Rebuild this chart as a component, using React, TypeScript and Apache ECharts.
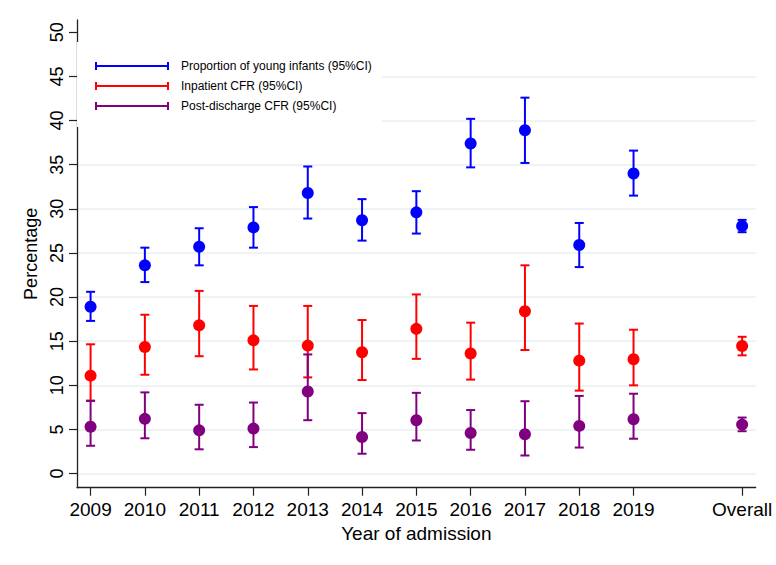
import React, { useEffect, useRef } from "react";
import * as echarts from "echarts";

const categories = ["2009", "2010", "2011", "2012", "2013", "2014", "2015", "2016", "2017", "2018", "2019", "Overall"];

const infantsEst = [18.9, 23.6, 25.7, 27.9, 31.8, 28.7, 29.6, 37.4, 38.9, 25.9, 34.0, 28.05];
const infantsLow = [17.3, 21.7, 23.6, 25.6, 28.9, 26.4, 27.2, 34.7, 35.2, 23.4, 31.5, 27.35];
const infantsHigh = [20.6, 25.6, 27.8, 30.2, 34.8, 31.1, 32.0, 40.2, 42.6, 28.4, 36.6, 28.75];

const inpatientEst = [11.1, 14.35, 16.8, 15.1, 14.5, 13.75, 16.4, 13.6, 18.4, 12.8, 12.95, 14.45];
const inpatientLow = [8.25, 11.2, 13.3, 11.8, 10.9, 10.6, 13.0, 10.65, 14.0, 9.4, 10.0, 13.4];
const inpatientHigh = [14.65, 18.0, 20.7, 19.0, 19.0, 17.4, 20.3, 17.1, 23.6, 17.0, 16.3, 15.5];

const postEst = [5.3, 6.2, 4.9, 5.1, 9.3, 4.15, 6.05, 4.6, 4.45, 5.4, 6.15, 5.55];
const postLow = [3.15, 4.0, 2.75, 3.0, 6.05, 2.25, 3.75, 2.7, 2.05, 2.95, 3.95, 4.8];
const postHigh = [8.25, 9.2, 7.8, 8.05, 13.5, 6.85, 9.15, 7.2, 8.2, 8.8, 9.05, 6.35];

const yTicks = [0, 5, 10, 15, 20, 25, 30, 35, 40, 45, 50];

const seriesNames = [
  "Proportion of young infants (95%CI)",
  "Inpatient CFR (95%CI)",
  "Post-discharge CFR (95%CI)",
];
const seriesColors = ["#0000FF", "#FF0000", "#800080"];

const FONT = "'Liberation Sans', Arial, sans-serif";
const OVERALL_POS = 2021;

function xOf(c: string): number {
  return c === "Overall" ? OVERALL_POS : Number(c);
}

const xTicks = categories.map(xOf);

const legendIcon = "path://M0 0H2V8H0Z M0 3H74V5H0Z M72 0H74V8H72Z";

export default function App() {
  const ref = useRef<HTMLDivElement>(null);

  useEffect(() => {
    if (!ref.current) return;
    const chart = echarts.init(ref.current, null, { renderer: "svg" });

    const groups = [
      { est: infantsEst, low: infantsLow, high: infantsHigh },
      { est: inpatientEst, low: inpatientLow, high: inpatientHigh },
      { est: postEst, low: postLow, high: postHigh },
    ];

    const series: any[] = [];
    groups.forEach((g, gi) => {
      const color = seriesColors[gi];
      series.push({
        type: "custom",
        name: seriesNames[gi] + " CI",
        data: categories.map((c, i) => [xOf(c), g.low[i], g.high[i]]),
        encode: { x: 0, y: [1, 2] },
        renderItem: (params: any, api: any) => {
          const x = api.value(0);
          const lo = api.coord([x, api.value(1)]);
          const hi = api.coord([x, api.value(2)]);
          const half = 4.5;
          const style = { stroke: color, lineWidth: 2, fill: null };
          return {
            type: "group",
            children: [
              { type: "line", shape: { x1: lo[0], y1: lo[1], x2: hi[0], y2: hi[1] }, style },
              { type: "line", shape: { x1: lo[0] - half, y1: lo[1], x2: lo[0] + half, y2: lo[1] }, style },
              { type: "line", shape: { x1: hi[0] - half, y1: hi[1], x2: hi[0] + half, y2: hi[1] }, style },
            ],
          };
        },
        silent: true,
      });
      series.push({
        type: "scatter",
        name: seriesNames[gi],
        data: categories.map((c, i) => [xOf(c), g.est[i]]),
        symbol: "circle",
        symbolSize: 12,
        itemStyle: { color, opacity: 1 },
        silent: true,
      });
    });

    const gridColors = yTicks.map((t) => (t === 50 ? "rgba(0,0,0,0)" : "#E9F0F3"));

    chart.setOption({
      animation: false,
      backgroundColor: "#ffffff",
      textStyle: { fontFamily: FONT },
      grid: { left: 77, right: 20.3, top: 20, bottom: 77.3, containLabel: false },
      legend: {
        left: 77,
        top: 42,
        orient: "vertical",
        backgroundColor: "#ffffff",
        padding: [17, 10, 14, 18],
        itemWidth: 74,
        itemHeight: 8,
        itemGap: 6,
        selectedMode: false,
        textStyle: { fontSize: 12, color: "#000", fontFamily: FONT, padding: [0, 0, 0, 7], lineHeight: 14 },
        data: seriesNames.map((n) => ({ name: n, icon: legendIcon })),
      },
      xAxis: {
        type: "value",
        min: 2008.75,
        max: 2021.25,
        axisLine: { show: true, onZero: false, lineStyle: { color: "#222", width: 1.3 } },
        axisTick: { show: true, length: 8, customValues: xTicks, lineStyle: { color: "#222", width: 1.2 } },
        axisLabel: {
          customValues: xTicks,
          formatter: (v: number) => (v === OVERALL_POS ? "Overall" : String(v)),
          fontSize: 19,
          color: "#000",
          margin: 12,
          fontFamily: FONT,
        },
        splitLine: { show: false },
        name: "Year of admission",
        nameLocation: "middle",
        nameGap: 36,
        nameTextStyle: { fontSize: 19, color: "#000", fontFamily: FONT },
      },
      yAxis: {
        type: "value",
        min: -1.6,
        max: 51.4,
        axisLine: { show: true, onZero: false, lineStyle: { color: "#222", width: 1.3 } },
        axisTick: { show: true, length: 8, customValues: yTicks, lineStyle: { color: "#222", width: 1.2 } },
        axisLabel: {
          customValues: yTicks,
          rotate: 90,
          fontSize: 18,
          color: "#000",
          margin: 11,
          fontFamily: FONT,
        },
        splitLine: { show: true, lineStyle: { color: gridColors, width: 1.6 } },
        name: "Percentage",
        nameLocation: "middle",
        nameGap: 35,
        nameTextStyle: { fontSize: 18, color: "#000", fontFamily: FONT },
      },
      series,
    });

    return () => chart.dispose();
  }, []);

  return (
    <div
      ref={ref}
      style={{ position: "fixed", left: 0, top: 0, width: 776, height: 565, background: "#fff" }}
    />
  );
}
